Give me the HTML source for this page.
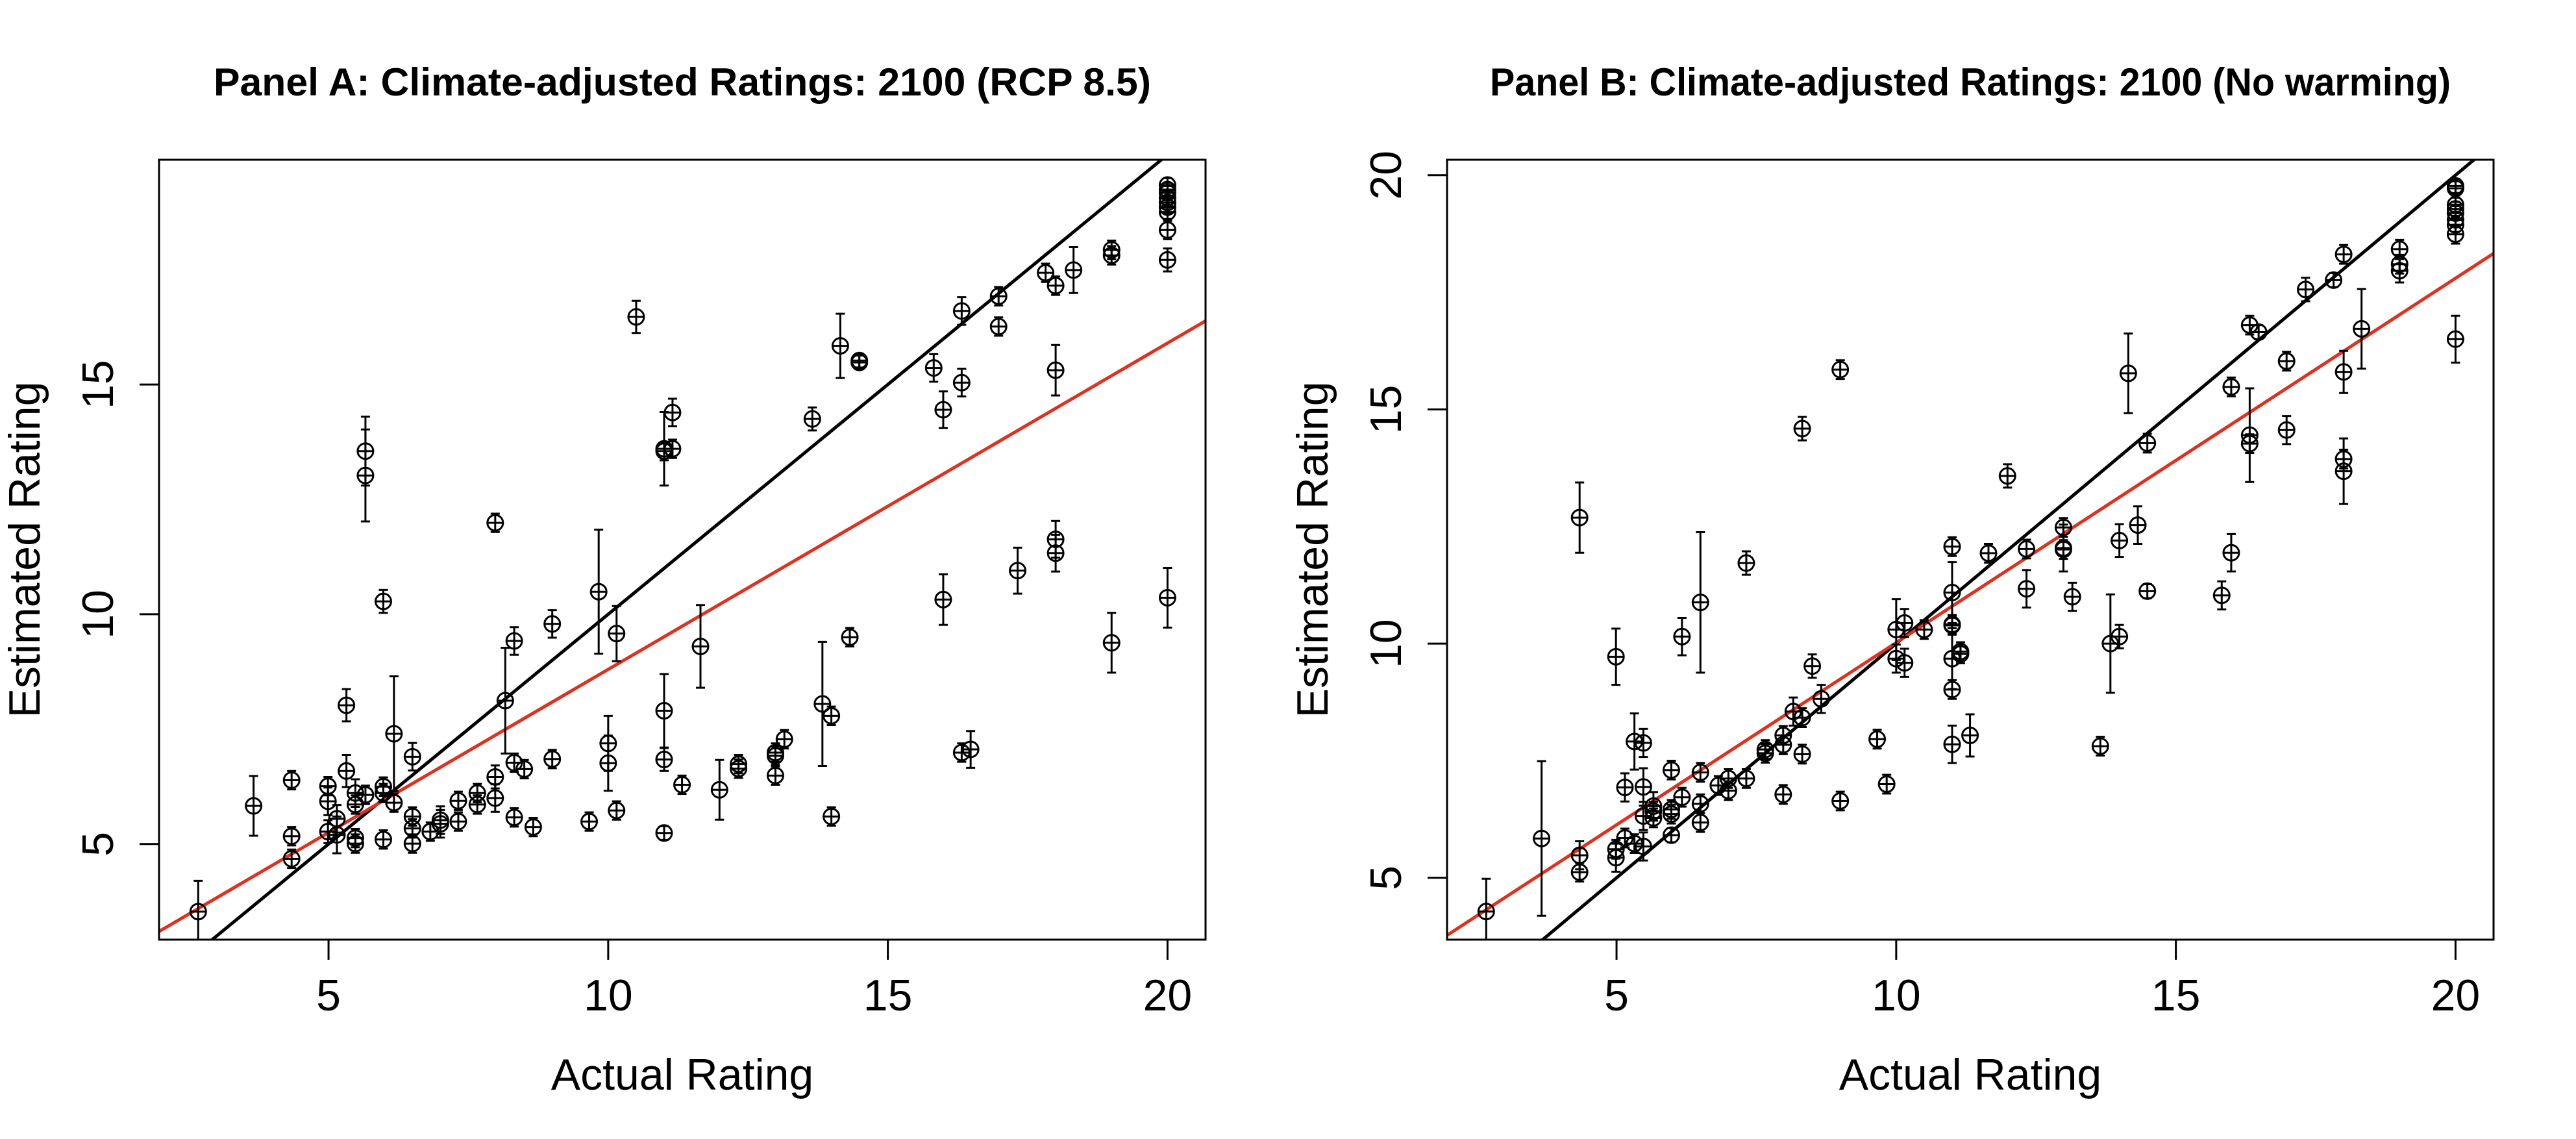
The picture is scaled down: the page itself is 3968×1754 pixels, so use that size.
<!DOCTYPE html>
<html><head><meta charset="utf-8"><style>
html,body{margin:0;padding:0;background:#fff}
svg{display:block}
text{font-family:"Liberation Sans",sans-serif;fill:#000}
</style></head><body>
<svg id="chart" width="3968" height="1754" viewBox="0 0 3968 1754" xmlns="http://www.w3.org/2000/svg">
<rect width="3968" height="1754" fill="#fff"/>
</svg>
<script>
// Panel A data
const aX = [2.67,3.66,4.34,4.34,4.34,4.99,4.99,4.99,5.15,5.15,5.32,5.32,5.48,5.48,5.48,5.48,5.66,5.66,5.66,5.98,5.98,5.98,5.98,6.17,6.17,6.5,6.5,6.5,6.5,6.82,7.0,7.0,7.32,7.32,7.66,7.66,7.98,7.98,7.98,8.16,8.32,8.32,8.32,8.5,8.66,9.0,9.0,9.66,9.83,10.0,10.0,10.15,10.15,10.5,11.0,11.0,11.15,11.15,11.0,11.0,11.0,11.32,11.65,11.99,12.33,12.33,12.99,12.99,12.99,13.15,13.65,13.83,13.99,13.99,14.15,14.32,14.49,14.49,15.82,15.99,15.99,16.32,16.32,16.32,16.48,16.98,16.98,17.32,17.82,18.0,18.0,18.0,18.0,18.32,19.0,19.0,19.0,20,20,20,20,20,20,20,20,20,20];
const aY = [3.53,5.83,6.39,5.17,4.68,6.26,5.93,5.27,5.55,5.2,8.02,6.59,6.11,5.86,5.13,5.01,13.55,13.02,6.07,10.28,6.25,6.11,5.1,7.4,5.9,6.9,5.6,5.34,5.01,5.27,5.52,5.44,5.94,5.49,6.11,5.86,11.99,6.46,6.0,8.12,9.42,6.77,5.58,6.63,5.37,9.79,6.85,5.49,10.49,7.19,6.76,9.58,5.73,16.47,13.6,13.55,14.39,13.6,7.9,6.84,5.24,6.29,9.3,6.18,6.74,6.64,6.99,6.92,6.49,7.28,14.25,8.05,7.79,5.6,15.84,9.5,15.52,15.48,15.36,14.45,10.32,16.6,15.04,6.99,7.06,16.92,16.26,10.95,17.43,17.15,15.31,11.63,11.33,17.49,17.93,17.81,9.38,19.34,19.24,19.17,19.06,18.96,18.86,18.75,18.36,17.71,10.36];
const aErr = [0.67,0.65,0.2,0.2,0.2,0.2,0.3,0.25,0.3,0.4,0.35,0.35,0.3,0.2,0.2,0.2,0.75,1.0,0.2,0.25,0.2,0.2,0.2,1.25,0.2,0.3,0.2,0.2,0.2,0.2,0.3,0.3,0.2,0.2,0.2,0.2,0.2,0.25,0.3,1.15,0.3,0.2,0.2,0.2,0.2,0.3,0.2,0.2,1.35,0.6,0.6,0.6,0.2,0.35,0.8,0.2,0.3,0.2,0.8,0.25,0.15,0.2,0.9,0.65,0.2,0.2,0.2,0.2,0.2,0.2,0.25,1.35,0.2,0.2,0.7,0.2,0.15,0.15,0.3,0.4,0.55,0.3,0.3,0.2,0.4,0.2,0.2,0.5,0.2,0.2,0.55,0.4,0.4,0.5,0.2,0.2,0.65,0.15,0.15,0.15,0.15,0.15,0.15,0.15,0.2,0.25,0.65];
// Panel B data
const bX = [2.67,3.66,4.34,4.34,4.34,4.99,4.99,4.99,5.15,5.15,5.32,5.32,5.48,5.48,5.48,5.48,5.66,5.66,5.66,5.98,5.98,5.98,5.98,6.17,6.17,6.5,6.5,6.5,6.5,6.82,7.0,7.0,7.32,7.32,7.66,7.66,7.98,7.98,7.98,8.16,8.32,8.32,8.32,8.5,8.66,9.0,9.0,9.66,9.83,10.0,10.0,10.15,10.15,10.5,11.0,11.0,11.0,11.0,11.0,11.0,11.0,11.15,11.15,11.32,11.65,11.99,12.33,12.33,12.99,12.99,12.99,13.15,13.65,13.83,13.99,13.99,14.15,14.32,14.49,14.49,15.82,15.99,15.99,16.32,16.32,16.32,16.48,16.98,16.98,17.32,17.82,18.0,18.0,18.0,18.0,18.32,19.0,19.0,19.0,20,20,20,20,20,20,20,20,20];
const bY = [4.28,5.84,12.69,5.48,5.12,9.72,5.61,5.43,6.93,5.85,7.91,5.73,7.88,6.94,6.32,5.67,6.53,6.42,6.28,7.3,6.46,6.36,5.91,10.15,6.72,10.88,7.25,6.58,6.18,6.97,7.12,6.86,11.72,7.12,7.74,7.66,8.04,7.84,6.78,8.55,14.59,8.42,7.64,9.52,8.82,15.85,6.64,7.96,7.0,10.3,9.68,10.44,9.59,10.3,12.07,11.09,10.41,10.39,9.68,9.02,7.85,9.83,9.78,8.04,11.93,13.58,12.02,11.17,12.48,12.04,12.01,11.0,7.81,10.0,12.2,10.15,15.77,12.53,14.28,11.12,11.03,15.48,11.94,16.8,14.45,14.27,16.65,16.03,14.56,17.56,17.76,18.31,15.8,13.94,13.68,16.72,18.42,18.1,17.96,19.77,19.72,19.37,19.28,19.19,19.05,18.94,18.74,16.5];
const bErr = [0.7,1.65,0.75,0.3,0.2,0.6,0.2,0.3,0.3,0.2,0.6,0.2,0.3,0.4,0.3,0.3,0.3,0.2,0.2,0.2,0.2,0.2,0.15,0.4,0.2,1.5,0.2,0.2,0.2,0.2,0.2,0.2,0.25,0.2,0.2,0.2,0.2,0.2,0.2,0.3,0.25,0.2,0.2,0.25,0.3,0.2,0.2,0.2,0.2,0.65,0.3,0.3,0.3,0.2,0.2,0.65,0.2,0.2,0.65,0.2,0.4,0.2,0.2,0.45,0.2,0.25,0.2,0.4,0.2,0.5,0.2,0.3,0.2,1.05,0.35,0.25,0.85,0.4,0.2,0.15,0.3,0.2,0.4,0.2,1.0,0.2,0.15,0.2,0.3,0.25,0.15,0.2,0.45,0.2,0.7,0.85,0.2,0.2,0.25,0.15,0.15,0.15,0.15,0.15,0.15,0.15,0.2,0.5];
const xTicks = [5,10,15,20];
const aYTicks = [5,10,15];
const bYTicks = [5,10,15,20];
const aFit = [1.70, 0.710];   // intercept, slope (red)
const bFit = [2.24, 0.778];
const titles = ["Panel A: Climate-adjusted Ratings: 2100 (RCP 8.5)","Panel B: Climate-adjusted Ratings: 2100 (No warming)"];

const NS = "http://www.w3.org/2000/svg";
const svg = document.getElementById('chart');
function mk(tag, attrs, parent){
  const e = document.createElementNS(NS, tag);
  for (const k in attrs) e.setAttribute(k, attrs[k]);
  (parent||svg).appendChild(e);
  return e;
}
function panel(id, off, xs, ys, err, yTicks, fit, yDom, title){
  const L=245+off, R=1857+off, T=246, B=1447;
  const xDom=[1.97,20.68];
  const sx = v => L + (v-xDom[0])/(xDom[1]-xDom[0])*(R-L);
  const sy = v => B - (v-yDom[0])/(yDom[1]-yDom[0])*(B-T);
  const g = mk('g', {});
  
  
  const t = mk('text', {x:(L+R)/2, y:147, 'text-anchor':'middle', 'font-size':60, 'font-weight':'bold', textLength:(id==='panel-a'?1444:1480), lengthAdjust:'spacingAndGlyphs'}, g);
  t.textContent = title;
  
  
  const clipId = 'clip-'+id;
  const cp = mk('clipPath', {id:clipId}, g);
  mk('rect', {x:L, y:T, width:R-L, height:B-T}, cp);
  const plot = mk('g', {'clip-path':'url(#'+clipId+')'}, g);
  
  
  const l1 = mk('line', {x1:sx(xDom[0]), y1:sy(xDom[0]), x2:sx(xDom[1]), y2:sy(xDom[1]), stroke:'#000', 'stroke-width':5}, plot);
  
  
  const l2 = mk('line', {x1:sx(xDom[0]), y1:sy(fit[0]+fit[1]*xDom[0]), x2:sx(xDom[1]), y2:sy(fit[0]+fit[1]*xDom[1]), stroke:'#e0301e', 'stroke-width':5}, plot);
  
  
  for (let i=0;i<xs.length;i++){
    const cx=sx(xs[i]), cy=sy(ys[i]), y1=sy(ys[i]+err[i]), y2=sy(ys[i]-err[i]);
    const pg = mk('g', {stroke:'#000','stroke-width':3, fill:'none'}, plot);
    
    
    mk('path', {d:`M${cx},${y1}V${y2}M${cx-7},${y1}H${cx+7}M${cx-7},${y2}H${cx+7}M${cx-12},${cy}H${cx+12}`}, pg);
    mk('circle', {cx:cx, cy:cy, r:12}, pg);
  }
  const box = mk('rect', {x:L, y:T, width:R-L, height:B-T, fill:'none', stroke:'#000','stroke-width':3}, g);
  
  
  const xa = mk('g', {}, g);
  
  
  xTicks.forEach(v=>{
    mk('line', {x1:sx(v), x2:sx(v), y1:B, y2:B+31, stroke:'#000','stroke-width':3}, xa);
    const tl = mk('text', {x:sx(v), y:1556, 'text-anchor':'middle', 'font-size':68}, xa);
    tl.textContent = v;
    
    
  });
  const xt = mk('text', {x:(L+R)/2, y:1678, 'text-anchor':'middle', 'font-size':68}, g);
  xt.textContent = 'Actual Rating';
  
  
  const ya = mk('g', {}, g);
  
  
  yTicks.forEach(v=>{
    mk('line', {x1:L-30, x2:L, y1:sy(v), y2:sy(v), stroke:'#000','stroke-width':3}, ya);
    const tl = mk('text', {x:0, y:0, 'text-anchor':'middle', 'font-size':68, transform:`translate(${off+174},${sy(v)}) rotate(-90)`}, ya);
    tl.textContent = v;
    
    
  });
  const yt = mk('text', {x:0, y:0, 'text-anchor':'middle', 'font-size':68, transform:`translate(${off+61},${(T+B)/2}) rotate(-90)`}, g);
  yt.textContent = 'Estimated Rating';
  
  
}
panel('panel-a', 0, aX, aY, aErr, aYTicks, aFit, [2.92,19.89], titles[0]);
panel('panel-b', 1984, bX, bY, bErr, bYTicks, bFit, [3.68,20.33], titles[1]);
</script>
</body></html>
